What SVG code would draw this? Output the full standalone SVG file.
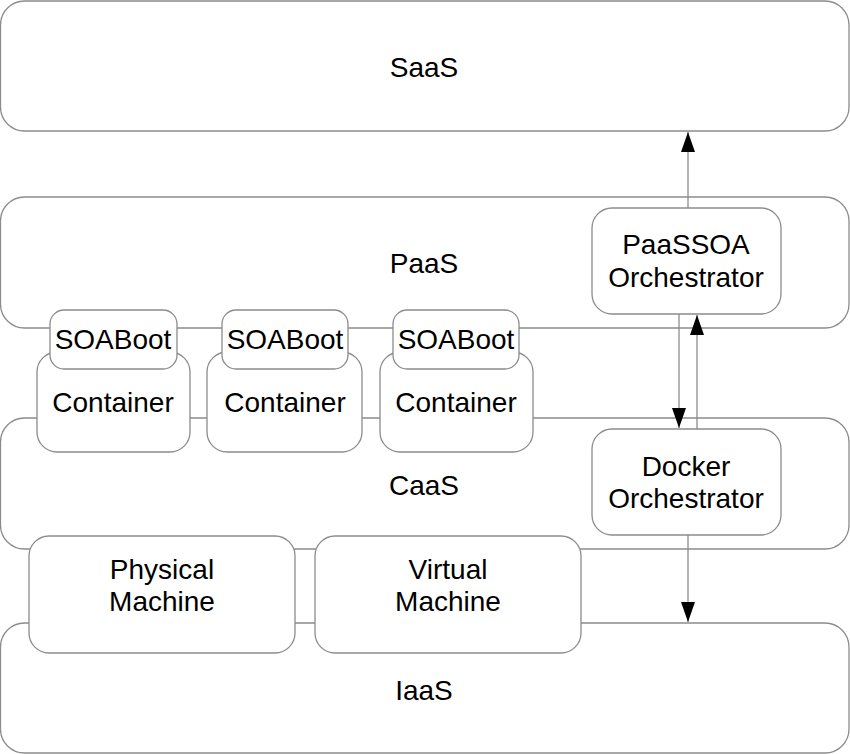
<svg xmlns="http://www.w3.org/2000/svg" width="850" height="754" viewBox="0 0 850 754">
<defs>
<style>
.b{fill:#fff;stroke:#8c8c8c;stroke-width:1.3}
.t{font-family:"Liberation Sans",Arial,sans-serif;font-size:28px;fill:#000;text-anchor:middle}
.c{stroke:#8c8c8c;stroke-width:1.3;fill:none}
</style>
<marker id="ah" viewBox="0 0 20 14" refX="20" refY="7" markerWidth="20" markerHeight="14" markerUnits="userSpaceOnUse" orient="auto">
<path d="M0,0 L20,7 L0,14 Z" fill="#000"/>
</marker>
</defs>
<g id="saas"><rect class="b" x="0.5" y="1" width="848.5" height="130" rx="24"/><text class="t" x="424" y="77">SaaS</text></g>
<g id="paas"><rect class="b" x="0.5" y="197" width="848.5" height="131" rx="24"/><text class="t" x="424" y="273">PaaS</text></g>
<g id="caas"><rect class="b" x="0.5" y="418" width="848.5" height="131" rx="24"/><text class="t" x="424" y="495">CaaS</text></g>
<g id="iaas"><rect class="b" x="0.5" y="623" width="848.5" height="130" rx="24"/><text class="t" x="424" y="700">IaaS</text></g>
<g id="connectors">
<line class="c" x1="688" y1="208" x2="688" y2="132" marker-end="url(#ah)"/>
<line class="c" x1="679" y1="314" x2="679" y2="428" marker-end="url(#ah)"/>
<line class="c" x1="697" y1="429" x2="697" y2="315" marker-end="url(#ah)"/>
<line class="c" x1="688" y1="535" x2="688" y2="622" marker-end="url(#ah)"/>
</g>
<g id="container1"><rect class="b" x="37" y="352" width="153" height="100" rx="20"/><text class="t" x="113" y="412">Container</text></g>
<g id="container2"><rect class="b" x="207" y="352" width="155" height="100" rx="20"/><text class="t" x="285" y="412">Container</text></g>
<g id="container3"><rect class="b" x="380" y="352" width="153" height="100" rx="20"/><text class="t" x="456" y="412">Container</text></g>
<g id="soaboot1"><rect class="b" x="50" y="310" width="127" height="59" rx="14"/><text class="t" x="113" y="349">SOABoot</text></g>
<g id="soaboot2"><rect class="b" x="222" y="310" width="126" height="59" rx="14"/><text class="t" x="285" y="349">SOABoot</text></g>
<g id="soaboot3"><rect class="b" x="393" y="310" width="126" height="59" rx="14"/><text class="t" x="456" y="349">SOABoot</text></g>
<g id="paassoa"><rect class="b" x="592" y="208" width="189" height="106" rx="20"/><text class="t" x="686" y="254">PaaSSOA</text><text class="t" x="686" y="287">Orchestrator</text></g>
<g id="docker"><rect class="b" x="592" y="429" width="189" height="106" rx="20"/><text class="t" x="686" y="476">Docker</text><text class="t" x="686" y="508">Orchestrator</text></g>
<g id="physical"><rect class="b" x="29" y="536" width="266" height="117" rx="20"/><text class="t" x="162" y="579">Physical</text><text class="t" x="162" y="611">Machine</text></g>
<g id="virtual"><rect class="b" x="315" y="536" width="266" height="117" rx="20"/><text class="t" x="448" y="579">Virtual</text><text class="t" x="448" y="611">Machine</text></g>
</svg>
